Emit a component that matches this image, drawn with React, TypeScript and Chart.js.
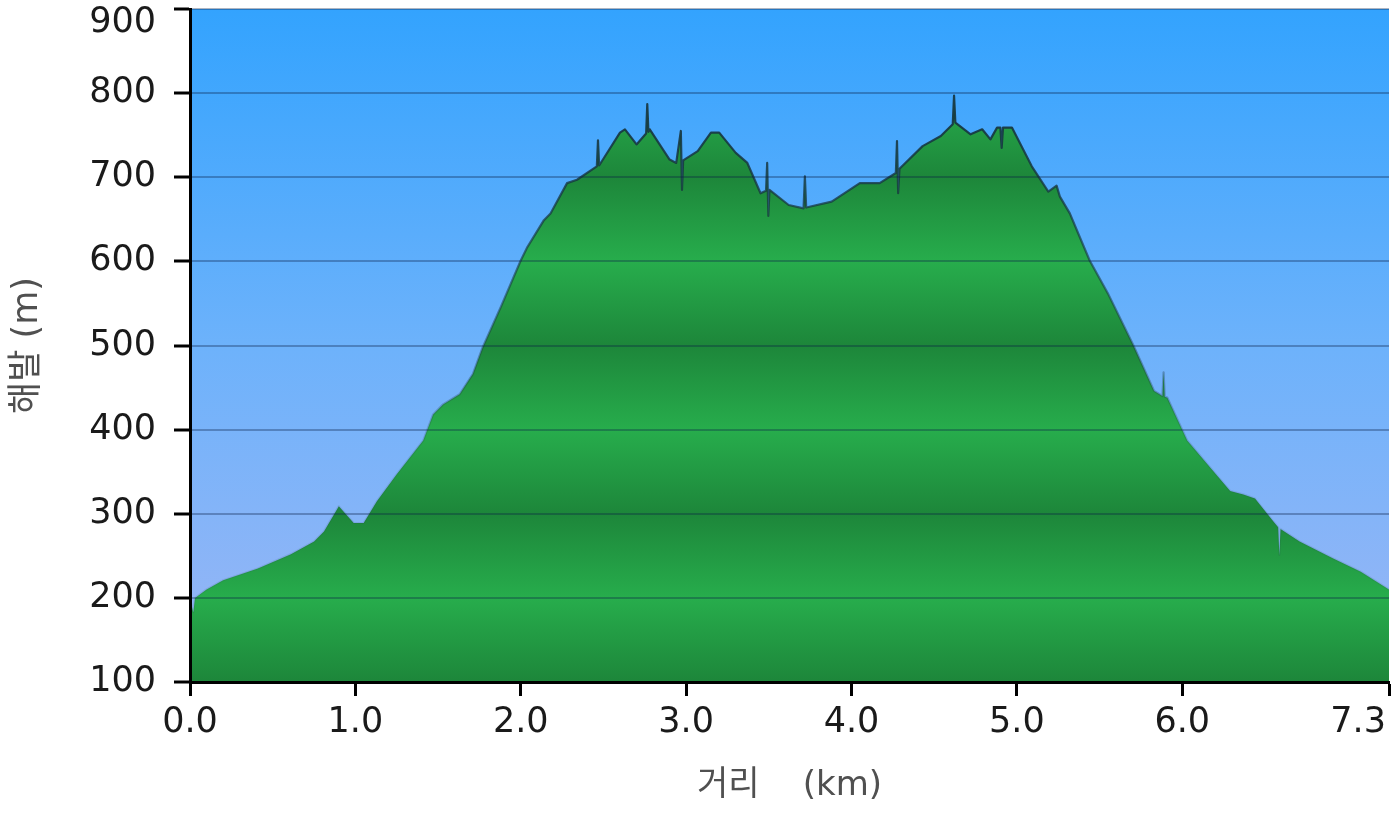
import React, { useEffect, useRef } from 'react';
import { Chart, registerables } from 'chart.js';

Chart.register(...registerables);

// ---- data ----
const distanceKm = [
  0.0, 0.02, 0.03, 0.1, 0.2, 0.41, 0.61, 0.75, 0.81, 0.9, 0.99, 1.05, 1.13, 1.25, 1.41, 1.47, 1.53, 1.63,
  1.71, 1.77, 1.88, 2.0, 2.04, 2.14, 2.18, 2.28, 2.34, 2.46, 2.467, 2.474, 2.6, 2.63, 2.7, 2.758, 2.765,
  2.772, 2.78, 2.9, 2.94, 2.968, 2.975, 2.982, 3.07, 3.15, 3.2, 3.3, 3.37, 3.45, 3.483, 3.49, 3.497, 3.504,
  3.62, 3.71, 3.718, 3.726, 3.88, 4.05, 4.17, 4.268, 4.275, 4.282, 4.29, 4.43, 4.54, 4.612, 4.62, 4.628,
  4.72, 4.79, 4.84, 4.88, 4.9, 4.908, 4.916, 4.97, 5.09, 5.19, 5.24, 5.26, 5.32, 5.38, 5.44, 5.55, 5.7,
  5.83, 5.88, 5.887, 5.894, 5.91, 6.03, 6.29, 6.37, 6.44, 6.55, 6.58, 6.587, 6.594, 6.71, 6.91, 7.08, 7.25,
];
const elevationM = [
  199, 183, 200, 210, 221, 235, 252, 267, 279, 309, 289, 289, 315, 347, 387, 418, 430, 442,
  466, 498, 546, 601, 617, 649, 657, 693, 697, 713, 744, 714, 753, 757, 739, 752, 787,
  754, 757, 721, 717, 755, 685, 720, 731, 753, 753, 729, 717, 681, 684, 717, 654, 685,
  667, 663, 701, 664, 671, 693, 693, 705, 743, 681, 710, 737, 749, 763, 797, 765,
  751, 757, 745, 759, 759, 735, 759, 759, 713, 683, 690, 677, 657, 629, 601, 562, 502,
  446, 440, 468, 439, 438, 387, 327, 323, 318, 291, 284, 251, 282, 267, 247, 231, 210,
];
const xTicks = [0, 1, 2, 3, 4, 5, 6, 7.25];
const xTickLabels = ['0.0', '1.0', '2.0', '3.0', '4.0', '5.0', '6.0', '7.3'];
const yTicks = [100, 200, 300, 400, 500, 600, 700, 800, 900];
const yTickLabels = ['100', '200', '300', '400', '500', '600', '700', '800', '900'];
const yTitle = '해발 (m)';
const xTitle = '거리    (km)';

// ---- styles ----
const FONT = "'DejaVu Sans', Verdana, 'Noto Sans CJK KR', sans-serif";
const TICK_SIZE = 35;
const TICK_COLOR = '#1a1a1a';
const GREEN_DARK = '#1d863a';
const GREEN_LIGHT = '#27ad4c';
const X_TICK_LEN = 14;
const X_TICK_PAD = 6;
const Y_TICK_LEN = 16;
const Y_TICK_PAD = 18;

const plotBackground = {
  id: 'plotBackground',
  beforeDraw(chart: any) {
    const { ctx, chartArea: a } = chart;
    if (!a) return;
    const g = ctx.createLinearGradient(0, a.top, 0, a.bottom);
    g.addColorStop(0, '#33a3fe');
    g.addColorStop(0.5, '#6db2fb');
    g.addColorStop(1, '#9bb6f5');
    ctx.save();
    ctx.fillStyle = g;
    ctx.fillRect(a.left, a.top, a.right - a.left, a.bottom - a.top);
    ctx.restore();
  },
};

const edgeLabels = {
  id: 'edgeLabels',
  afterDraw(chart: any) {
    const { ctx, scales } = chart;
    const x = scales.x;
    const y = scales.y;
    ctx.save();
    ctx.font = `${TICK_SIZE}px ${FONT}`;
    ctx.fillStyle = TICK_COLOR;
    ctx.textBaseline = 'middle';
    ctx.textAlign = 'right';
    const lastY = yTicks.length - 1;
    ctx.fillText(yTickLabels[lastY], y.right - Y_TICK_LEN - Y_TICK_PAD, y.getPixelForValue(yTicks[lastY]) + 14);
    const lastX = xTicks.length - 1;
    ctx.fillText(
      xTickLabels[lastX],
      x.getPixelForValue(xTicks[lastX]) - 3,
      x.top + X_TICK_LEN + X_TICK_PAD + (TICK_SIZE * 1.2) / 2
    );
    ctx.restore();
  },
};

export default function App() {
  const canvasRef = useRef<HTMLCanvasElement | null>(null);

  useEffect(() => {
    const canvas = canvasRef.current;
    if (!canvas) return;
    const points = distanceKm.map((d, i) => ({ x: d, y: elevationM[i] }));

    const chart = new Chart(canvas, {
      type: 'line',
      data: {
        datasets: [
          {
            data: points,
            fill: 'start',
            tension: 0,
            pointRadius: 0,
            borderWidth: 2.2,
            borderJoinStyle: 'round',
            borderColor: (c: any) => {
              const ch = c.chart;
              if (!ch.chartArea) return '#1c3f45';
              const ys = ch.scales.y;
              const g = ch.ctx.createLinearGradient(0, ys.getPixelForValue(760), 0, ys.getPixelForValue(350));
              g.addColorStop(0, 'rgba(22,52,62,0.9)');
              g.addColorStop(0.45, 'rgba(22,52,62,0.55)');
              g.addColorStop(1, 'rgba(40,60,80,0.12)');
              return g;
            },
            backgroundColor: (c: any) => {
              const ch = c.chart;
              if (!ch.chartArea) return GREEN_LIGHT;
              const ys = ch.scales.y;
              const top = ys.getPixelForValue(yTicks[yTicks.length - 1]);
              const bottom = ys.getPixelForValue(yTicks[0]);
              const g = ch.ctx.createLinearGradient(0, top, 0, bottom);
              yTicks.forEach((v) => {
                const stop = (ys.getPixelForValue(v) - top) / (bottom - top);
                g.addColorStop(Math.min(1, Math.max(0, stop)), (v / 100) % 2 === 1 ? GREEN_DARK : GREEN_LIGHT);
              });
              return g;
            },
          },
        ],
      },
      options: {
        animation: false,
        responsive: true,
        maintainAspectRatio: false,
        devicePixelRatio: 1,
        layout: { padding: { top: 9, right: 11, left: 0, bottom: 0 } },
        plugins: {
          legend: { display: false },
          tooltip: { enabled: false },
        },
        scales: {
          x: {
            type: 'linear',
            min: 0,
            max: xTicks[xTicks.length - 1],
            afterBuildTicks: (s: any) => {
              s.ticks = xTicks.map((v) => ({ value: v }));
            },
            afterFit: (s: any) => {
              s.height = 133;
              s.paddingLeft = 0;
              s.paddingRight = 0;
            },
            ticks: {
              autoSkip: false,
              maxRotation: 0,
              minRotation: 0,
              padding: X_TICK_PAD,
              color: TICK_COLOR,
              font: { family: FONT, size: TICK_SIZE },
              callback: (_v: any, i: number) => (i === xTicks.length - 1 ? '' : xTickLabels[i]),
            },
            grid: {
              drawOnChartArea: false,
              drawTicks: true,
              color: 'transparent',
              tickColor: '#000',
              tickLength: X_TICK_LEN,
              tickWidth: 3,
              z: 1,
            },
            border: { display: true, color: '#000', width: 3, z: 2 },
            title: {
              display: true,
              text: xTitle,
              color: '#505050',
              font: { family: FONT, size: 34, lineHeight: 1.2 },
              padding: { top: 0, bottom: 8 },
            },
          },
          y: {
            type: 'linear',
            min: yTicks[0],
            max: yTicks[yTicks.length - 1],
            afterBuildTicks: (s: any) => {
              s.ticks = yTicks.map((v) => ({ value: v }));
            },
            afterFit: (s: any) => {
              s.width = 190;
              s.paddingTop = 0;
              s.paddingBottom = 0;
            },
            ticks: {
              padding: Y_TICK_PAD,
              color: TICK_COLOR,
              font: { family: FONT, size: TICK_SIZE },
              callback: (_v: any, i: number) => (i === yTicks.length - 1 ? '' : yTickLabels[i]),
            },
            grid: {
              color: 'rgba(10,30,70,0.33)',
              lineWidth: 2,
              drawTicks: true,
              tickColor: '#000',
              tickLength: Y_TICK_LEN,
              tickWidth: 3,
              z: 1,
            },
            border: { display: true, color: '#000', width: 3, z: 2 },
            title: {
              display: true,
              text: yTitle,
              color: '#505050',
              font: { family: FONT, size: 35, lineHeight: 1.2 },
              padding: { top: 7, bottom: 0 },
            },
          },
        },
      },
      plugins: [plotBackground, edgeLabels],
    } as any);

    return () => chart.destroy();
  }, []);

  return (
    <div style={{ position: 'fixed', left: 0, top: 0, width: 1400, height: 815, background: '#fff' }}>
      <canvas ref={canvasRef} />
    </div>
  );
}
